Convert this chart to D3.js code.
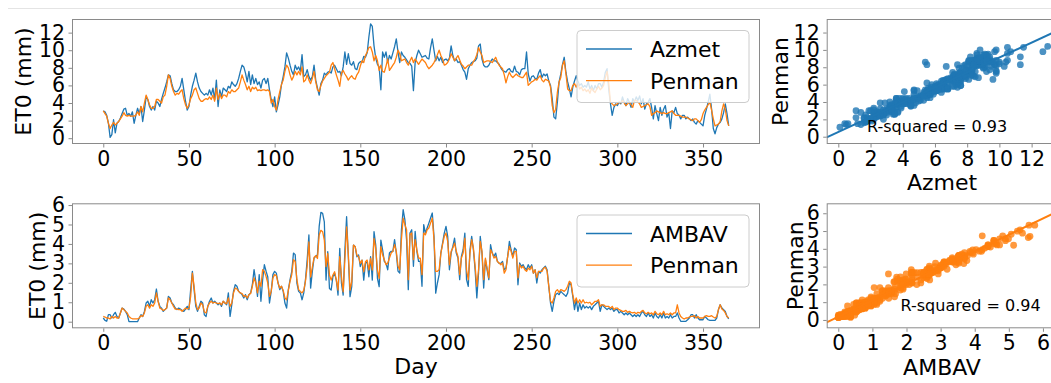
<!DOCTYPE html>
<html>
<head>
<meta charset="utf-8">
<script src="https://cdn.jsdelivr.net/npm/d3@7"></script>
<style>
  body { margin: 0; background: #fff; }
  svg { display: block; font-family: "DejaVu Sans", sans-serif; }
</style>
</head>
<body>
<svg id="fig" width="1051" height="383"></svg>
<script>
// Daily reference evapotranspiration (mm), day 0 .. 365
const azmet = [
  3.1,3.0,2.6,1.7,0.1,0.4,2.1,0.6,1.7,1.9, 2.3,2.8,3.3,3.4,2.6,2.8,2.5,3.0,1.7,2.6,
  3.4,2.8,3.6,1.9,3.2,4.7,4.4,3.6,3.2,3.6, 3.2,4.2,4.0,3.6,4.4,5.1,5.7,6.4,7.2,7.1,
  6.2,5.5,5.3,5.3,5.5,5.9,6.8,5.5,4.2,3.2, 3.6,4.9,5.9,6.6,7.4,6.4,5.7,5.3,5.1,4.9,
  5.1,4.9,5.5,4.9,5.7,4.4,6.6,3.6,5.5,4.7, 5.7,5.5,5.3,5.9,5.7,6.4,6.1,5.9,6.2,6.8,
  7.6,8.3,8.1,7.4,6.4,7.6,6.1,7.2,6.2,6.8, 6.1,6.4,5.7,6.6,6.8,6.2,6.8,5.5,4.4,3.6,
  4.7,3.0,3.8,4.7,6.1,7.0,8.1,9.7,9.1,8.3, 7.6,7.2,8.3,7.8,8.1,7.6,9.5,7.0,7.2,7.8,
  7.0,6.6,7.0,8.3,6.6,5.7,4.9,6.2,6.6,7.4, 7.2,7.5,7.6,7.4,8.1,8.3,7.9,7.5,7.6,7.1,
  8.1,9.8,8.4,9.6,8.5,8.3,8.7,7.9,7.8,8.5, 8.7,8.6,9.3,9.2,9.7,11.5,13.0,12.7,10.5,9.1,
  8.4,8.1,5.5,9.8,9.2,9.8,8.6,9.4,9.0,9.7, 10.4,11.3,9.8,8.6,9.8,9.4,9.2,8.9,8.6,8.5,
  8.2,5.4,8.6,9.4,10.0,9.6,9.2,9.3,9.4,9.1, 9.0,10.3,11.3,10.0,8.8,9.3,8.8,9.2,8.6,8.9,
  9.0,8.8,9.1,10.5,9.4,8.8,9.0,8.6,8.7,8.3, 7.8,7.5,6.7,7.9,8.3,8.6,8.7,8.8,9.1,10.5,
  10.7,9.0,8.3,8.1,8.1,8.3,8.7,9.0,8.8,8.8, 8.6,8.4,8.0,7.7,7.6,7.5,7.8,7.9,7.6,7.5,
  8.2,7.6,7.5,7.2,7.8,7.9,7.9,9.8,7.3,6.5, 7.0,7.1,6.8,6.7,7.4,7.8,6.9,7.3,7.1,7.3,
  6.5,6.0,4.5,2.4,2.2,4.1,6.4,7.3,8.4,9.2, 7.5,6.4,5.6,4.7,5.8,6.5,7.1,6.5,6.0,6.2,
  5.8,6.0,5.8,6.4,5.6,6.0,5.4,6.0,5.6,6.2, 6.2,5.8,6.4,7.5,7.9,5.5,3.9,2.6,3.5,3.9,
  3.7,4.1,3.9,4.7,4.1,3.7,4.5,4.1,3.5,4.5, 4.1,4.7,4.3,4.8,3.9,4.5,3.3,3.9,4.1,4.5,
  3.5,2.2,3.7,2.8,2.0,3.5,2.6,3.3,3.7,2.4, 2.9,1.1,3.1,2.9,3.5,2.8,2.6,2.2,2.6,2.6,
  2.2,2.4,2.2,2.0,2.2,1.8,1.6,2.0,1.8,1.6, 1.4,2.6,3.3,4.1,5.0,3.3,1.1,0.5,1.2,1.6,
  1.8,2.2,2.9,3.9,2.8,1.4
];
const penmanA = [
  3.1,2.8,2.5,1.7,1.1,1.5,1.8,1.5,1.7,1.9, 2.2,2.5,2.9,2.6,2.5,2.6,2.5,2.5,2.5,2.6,
  3.0,2.6,3.6,3.0,4.0,4.9,4.4,3.8,3.4,3.4, 3.6,4.4,4.4,4.2,4.0,4.7,4.9,5.9,7.2,6.8,
  5.9,5.3,4.9,5.1,5.0,5.3,5.5,4.5,3.8,3.4, 3.8,4.5,4.9,5.5,5.7,5.1,4.5,4.2,4.2,4.4,
  4.5,4.4,4.7,4.4,4.9,4.2,5.7,4.4,5.1,4.5, 4.9,4.9,4.7,5.3,5.1,5.5,5.3,5.3,5.5,5.7,
  6.4,7.2,6.6,6.1,5.5,5.9,5.3,5.8,5.6,5.8, 5.4,5.5,5.4,5.5,5.5,5.4,5.5,5.3,4.0,4.4,
  3.6,3.2,4.4,5.3,6.1,6.6,7.6,8.3,8.0,7.2, 6.6,7.0,7.6,7.2,7.6,7.2,8.1,6.4,6.6,7.2,
  6.6,6.2,6.8,7.6,6.4,5.5,5.3,6.0,6.5,6.8, 7.1,7.3,7.5,8.3,8.6,7.9,7.2,6.6,5.9,7.4,
  7.7,7.3,7.0,6.6,6.9,7.1,6.8,6.7,7.2,7.5, 8.2,8.8,8.6,9.4,9.8,10.3,10.4,9.8,8.8,9.4,
  8.8,7.7,8.3,7.6,7.5,8.2,9.0,7.7,8.0,8.3, 8.6,9.2,10.0,9.6,8.8,8.9,9.0,8.6,8.3,8.8,
  9.2,8.6,9.0,8.7,8.4,8.7,9.0,8.8,8.6,8.2, 7.9,8.1,8.3,8.6,9.0,9.5,10.0,9.4,9.0,8.3,
  8.4,8.6,9.0,9.6,9.2,8.8,9.1,9.4,8.9,8.4, 8.2,7.9,8.1,8.3,8.3,8.3,8.7,9.0,9.5,10.3,
  9.8,9.4,8.6,8.7,8.8,8.8,8.7,8.6,8.9,9.2, 8.7,8.3,8.1,7.9,7.2,6.3,7.0,7.5,7.1,6.9,
  7.1,7.3,7.1,7.0,6.9,6.9,7.2,7.5,6.0,6.2, 6.4,6.5,6.7,6.6,6.9,7.1,6.6,6.4,6.7,6.6,
  6.5,5.8,3.7,2.9,3.3,5.2,6.4,6.9,8.3,8.8, 7.3,5.6,5.4,5.4,6.0,6.2,5.8,6.2,5.6,5.8,
  5.4,5.6,5.3,5.5,5.1,5.7,5.4,5.2,5.6,5.9, 5.5,5.7,6.0,6.9,7.6,6.2,4.1,3.9,3.7,3.8,
  3.9,4.1,4.0,4.3,4.0,3.7,3.9,4.1,3.8,3.5, 4.3,4.3,4.1,3.9,3.5,3.6,3.7,3.8,3.9,3.6,
  2.6,2.8,2.9,3.1,3.0,2.9,2.8,2.9,2.8,2.8, 2.9,3.0,3.1,2.8,2.6,2.6,2.6,2.5,2.4,2.4,
  2.4,2.3,2.2,2.1,2.0,2.2,2.2,2.0,1.8,2.1, 2.8,3.2,3.5,3.8,4.1,3.2,2.2,1.4,1.5,1.6,
  1.9,3.1,3.9,3.3,2.0,1.4
];
const ambav = [
  0.19,0.07,0.02,0.36,0.36,0.19,0.36,0.48,0.27,0.19, 0.45,0.7,0.65,0.53,0.36,0.0,0.0,0.0,0.0,0.0,
  0.0,0.19,0.36,0.27,0.53,0.96,1.05,0.79,1.13,0.96, 1.13,1.68,1.05,0.79,0.7,0.53,0.62,0.7,1.3,1.22,
  0.96,0.87,0.7,0.62,0.7,0.65,0.58,0.53,0.65,0.79, 0.62,1.65,2.59,1.65,0.79,0.53,0.79,1.05,0.96,0.35,
  0.27,0.79,1.05,1.22,0.96,1.05,0.96,0.87,0.96,0.79, 1.05,0.96,0.87,1.48,0.27,0.87,1.56,1.9,1.82,1.56,
  1.48,1.39,1.22,1.39,1.13,1.39,1.48,1.9,2.68,2.08, 1.3,2.42,1.05,2.16,2.93,2.6,2.3,0.96,1.56,2.42,
  2.59,2.5,1.99,1.65,1.82,1.56,0.96,0.7,1.65,2.16, 2.59,3.53,3.45,1.99,1.56,1.48,1.13,1.48,2.16,3.19,
  4.46,1.73,2.59,3.27,3.36,3.45,4.9,5.62,5.57,5.14, 2.14,3.6,1.71,1.63,2.31,2.49,2.14,1.37,3.77,1.97,
  1.37,3.68,5.4,3.34,1.29,1.8,3.94,3.86,3.34,3.43, 2.83,3.17,2.14,3.0,3.08,2.31,3.34,2.14,4.63,3.94,
  2.23,1.8,4.2,3.7,3.1,3.0,2.67,3.53,3.62,3.62, 4.22,3.53,2.6,2.5,4.73,5.76,5.25,4.22,1.65,4.56,
  4.73,2.85,4.65,3.62,3.1,3.1,1.82,4.99,4.56,4.82, 5.07,5.33,5.59,4.39,1.47,1.99,2.42,3.53,4.04,4.56,
  4.9,4.39,2.67,3.53,3.87,4.3,3.53,3.27,2.16,3.36, 3.7,4.56,2.16,1.82,3.7,4.39,3.7,2.67,1.22,2.5,
  4.39,3.53,1.73,3.19,2.67,2.16,3.96,3.53,3.36,3.53, 3.1,3.0,3.0,3.1,2.67,2.76,3.36,4.13,3.7,3.36,
  3.79,3.7,1.9,3.02,2.85,2.93,2.76,2.67,2.93,2.76, 2.93,2.5,2.67,1.99,2.59,2.5,2.67,2.76,2.85,2.67,
  1.82,0.96,0.53,1.05,1.39,1.47,1.39,1.56,1.47,1.39, 1.3,1.47,1.99,1.9,1.3,0.62,1.13,0.53,0.96,0.62,
  0.87,0.7,0.79,0.7,0.79,0.62,0.79,0.87,0.96,1.05, 0.53,0.87,0.79,0.7,0.62,0.7,0.62,0.7,0.53,0.62,
  0.62,0.45,0.53,0.45,0.36,0.45,0.36,0.45,0.36,0.27, 0.36,0.27,0.36,0.27,0.45,0.53,0.36,0.27,0.45,0.27,
  0.36,0.19,0.45,0.27,0.19,0.36,0.19,0.45,0.19,0.27, 0.19,0.36,0.19,0.27,0.27,0.45,0.19,0.02,0.02,0.02,
  0.02,0.1,0.19,0.36,0.36,0.19,0.36,0.19,0.1,0.1, 0.1,0.27,0.19,0.1,0.07,0.07,0.07,0.07,0.19,0.62,
  0.87,0.7,0.62,0.53,0.27,0.14
];
const penmanB = [
  0.27,0.24,0.19,0.19,0.14,0.27,0.19,0.27,0.19,0.19, 0.45,0.7,0.62,0.53,0.45,0.27,0.19,0.15,0.14,0.14,
  0.14,0.19,0.31,0.27,0.45,0.79,0.87,0.7,0.87,0.79, 0.96,1.48,1.05,0.7,0.65,0.58,0.62,0.7,1.22,1.13,
  0.96,0.79,0.65,0.65,0.62,0.62,0.53,0.62,0.7,0.65, 0.7,1.3,2.5,1.82,0.96,0.62,0.7,0.96,0.87,0.5,
  0.45,0.79,0.96,1.05,0.96,1.0,0.96,0.93,0.96,0.87, 1.05,0.96,0.93,1.22,0.79,0.96,1.48,1.73,1.68,1.56,
  1.48,1.45,1.3,1.34,1.22,1.39,1.45,1.82,2.25,1.99, 1.48,2.08,1.82,2.68,2.59,2.33,1.99,1.3,1.56,2.25,
  2.42,2.37,1.99,1.73,1.82,1.61,1.22,1.13,1.61,2.08, 2.42,3.19,3.1,2.16,1.65,1.56,1.48,1.61,2.08,2.85,
  4.1,2.3,2.8,3.3,3.4,3.25,4.46,4.7,4.63,4.2, 2.83,3.5,2.4,2.14,2.4,2.57,2.14,1.63,3.34,2.31,
  1.54,3.17,4.88,3.5,1.63,2.06,3.94,3.86,3.43,3.34, 3.0,3.17,2.57,3.08,3.17,2.66,3.26,2.66,4.28,3.77,
  2.66,2.23,3.86,3.44,3.19,2.93,3.02,3.27,3.53,3.62, 3.96,3.62,2.85,2.67,4.22,5.33,4.99,4.73,2.16,4.47,
  4.56,3.19,4.22,3.7,3.27,3.27,2.42,4.56,4.47,4.73, 4.82,5.07,5.33,4.22,2.59,2.59,2.67,3.53,3.96,4.39,
  4.56,4.13,2.93,3.62,3.79,4.04,3.62,3.36,2.42,3.27, 3.53,4.3,2.67,2.16,3.53,4.22,3.79,2.85,1.82,2.67,
  4.13,3.62,2.16,3.27,2.76,2.25,3.7,3.53,3.27,3.36, 3.1,3.02,2.93,3.02,2.5,2.67,3.36,3.87,3.62,3.27,
  3.62,3.62,2.25,2.93,2.76,2.85,2.67,2.59,2.76,2.67, 2.85,2.5,2.67,2.25,2.59,2.59,2.59,2.76,2.8,2.59,
  1.82,1.05,0.96,1.22,1.56,1.65,1.51,1.65,1.61,1.56, 1.65,1.82,2.08,1.99,1.39,0.96,1.22,0.96,1.13,0.96,
  1.13,0.96,1.0,0.96,1.0,0.87,0.96,1.05,1.05,1.13, 0.79,0.87,0.87,0.79,0.79,0.79,0.7,0.79,0.62,0.7,
  0.7,0.62,0.58,0.53,0.53,0.58,0.48,0.53,0.48,0.45, 0.48,0.41,0.48,0.45,0.53,0.58,0.45,0.41,0.48,0.41,
  0.45,0.36,0.53,0.41,0.36,0.45,0.36,0.53,0.36,0.41, 0.36,0.45,0.36,0.45,0.45,0.87,0.45,0.27,0.19,0.14,
  0.19,0.19,0.24,0.27,0.27,0.31,0.19,0.27,0.19,0.19, 0.19,0.27,0.31,0.27,0.27,0.31,0.24,0.19,0.27,0.62,
  0.87,0.65,0.58,0.45,0.27,0.19
];

// Axis ticks and text
const dayTicks = [0, 50, 100, 150, 200, 250, 300, 350];
const etTicksTop = [0, 2, 4, 6, 8, 10, 12];
const etTicksBottom = [0, 1, 2, 3, 4, 5, 6];
const scatterTicksTop = [0, 2, 4, 6, 8, 10, 12];
const scatterTicksBottom = [0, 1, 2, 3, 4, 5, 6];
const seriesNamesTop = ["Azmet", "Penman"];
const seriesNamesBottom = ["AMBAV", "Penman"];
const rSquaredText = ["R-squared = 0.93", "R-squared = 0.94"];

const BLUE = "#1f77b4", ORANGE = "#ff7f0e", SPINE = "#8a8a8a";
const svg = d3.select("#fig");
const days = d3.range(azmet.length);

// faint rule across the top of the figure
svg.append("line").attr("x1", 8).attr("x2", 1051).attr("y1", 8.5).attr("y2", 8.5)
  .attr("stroke", "#e4e4e4").attr("stroke-width", 1);

let clipId = 0;
function panel(x0, x1, y0, y1, xDomain, yDomain, xTicks, yTicks) {
  const x = d3.scaleLinear().domain(xDomain).range([x0, x1]);
  const y = d3.scaleLinear().domain(yDomain).range([y1, y0]);
  const id = "clip" + (clipId++);
  svg.append("clipPath").attr("id", id).append("rect")
    .attr("x", x0).attr("y", y0).attr("width", x1 - x0).attr("height", y1 - y0);
  const g = svg.append("g").attr("clip-path", `url(#${id})`);
  const style = sel => {
    sel.select(".domain").remove();
    sel.selectAll(".tick line").attr("stroke", SPINE);
    sel.selectAll(".tick text").attr("fill", "#000").attr("font-size", 20.5)
      .attr("font-family", "DejaVu Sans, sans-serif");
  };
  svg.append("g").attr("transform", `translate(0,${y1})`)
    .call(d3.axisBottom(x).tickValues(xTicks).tickSize(3.5).tickPadding(3.5).tickFormat(d3.format("d")))
    .call(style);
  svg.append("g").attr("transform", `translate(${x0},0)`)
    .call(d3.axisLeft(y).tickValues(yTicks).tickSize(3.5).tickPadding(3.5).tickFormat(d3.format("d")))
    .call(style);
  svg.append("rect").attr("x", x0 + 0.5).attr("y", y0 + 0.5)
    .attr("width", x1 - x0 - 1).attr("height", y1 - y0 - 1)
    .attr("fill", "none").attr("stroke", SPINE).attr("stroke-width", 1);
  return { x, y, g };
}

function timeSeries(p, a, b) {
  const line = d3.line().x((d, i) => p.x(days[i])).y(d => p.y(d));
  p.g.append("path").datum(a).attr("d", line).attr("fill", "none")
    .attr("stroke", BLUE).attr("stroke-width", 1.3).attr("stroke-linejoin", "round");
  p.g.append("path").datum(b).attr("d", line).attr("fill", "none")
    .attr("stroke", ORANGE).attr("stroke-width", 1.3).attr("stroke-linejoin", "round");
}

function legend(x, y, names) {
  const g = svg.append("g");
  g.append("rect").attr("x", x).attr("y", y).attr("width", 172).attr("height", 72)
    .attr("rx", 4).attr("fill", "#fff").attr("fill-opacity", 0.8)
    .attr("stroke", "#cccccc").attr("stroke-width", 1);
  names.forEach((n, i) => {
    const ly = y + 18.5 + i * 31.7;
    g.append("line").attr("x1", x + 9).attr("x2", x + 55).attr("y1", ly).attr("y2", ly)
      .attr("stroke", i === 0 ? BLUE : ORANGE).attr("stroke-width", 1.3);
    g.append("text").attr("x", x + 73).attr("y", ly + 8).attr("font-size", 22)
      .attr("fill", "#000").text(n);
  });
}

function scatter(p, xs, ys, color) {
  p.g.selectAll(null).data(xs).enter().append("circle")
    .attr("cx", d => p.x(d)).attr("cy", (d, i) => p.y(ys[i])).attr("r", 3.4)
    .attr("fill", color).attr("fill-opacity", 0.8);
  // least-squares fit across the visible x range
  const mx = d3.mean(xs), my = d3.mean(ys);
  const slope = d3.sum(xs, (d, i) => (d - mx) * (ys[i] - my)) / d3.sum(xs, d => (d - mx) ** 2);
  const icpt = my - slope * mx;
  const [a, b] = p.x.domain();
  p.g.append("line").attr("x1", p.x(a)).attr("y1", p.y(icpt + slope * a))
    .attr("x2", p.x(b)).attr("y2", p.y(icpt + slope * b))
    .attr("stroke", color).attr("stroke-width", 2);
}

function label(txt, x, y, rotate, size) {
  svg.append("text").attr("transform", `translate(${x},${y}) rotate(${rotate || 0})`)
    .attr("text-anchor", "middle").attr("font-size", size || 22).attr("fill", "#000").text(txt);
}

// top row
const pA = panel(72, 760, 19, 144, [-18.25, 383.25], [-0.66, 13.55], dayTicks, etTicksTop);
timeSeries(pA, azmet, penmanA);
legend(577, 30.5, seriesNamesTop);
label("ET0 (mm)", 31, 81.5, -90);

const sA = panel(826.7, 1059, 19, 144, [-0.72, 13.7], [-0.84, 13.56], scatterTicksTop, etTicksTop);
scatter(sA, azmet, penmanA, BLUE);
svg.append("text").attr("x", 867).attr("y", 131.5).attr("font-size", 16).attr("fill", "#000").text(rSquaredText[0]);
label("Penman", 788, 81.5, -90);
label(seriesNamesTop[0], 942, 190, 0);

// bottom row
const pB = panel(72, 760, 203.3, 328.3, [-18.25, 383.25], [-0.34, 6.09], dayTicks, etTicksBottom);
timeSeries(pB, ambav, penmanB);
legend(577, 215, seriesNamesBottom);
label("ET0 (mm)", 44.5, 265.8, -90);
label("Day", 416, 374, 0);

const sB = panel(826.7, 1060, 203.3, 328.3, [-0.34, 6.5], [-0.47, 6.56], scatterTicksBottom, etTicksBottom);
scatter(sB, ambav, penmanB, ORANGE);
svg.append("text").attr("x", 900.5).attr("y", 310.5).attr("font-size", 16).attr("fill", "#000").text(rSquaredText[1]);
label("Penman", 803, 265.8, -90);
label(seriesNamesBottom[0], 942, 375, 0);
</script>
</body>
</html>
